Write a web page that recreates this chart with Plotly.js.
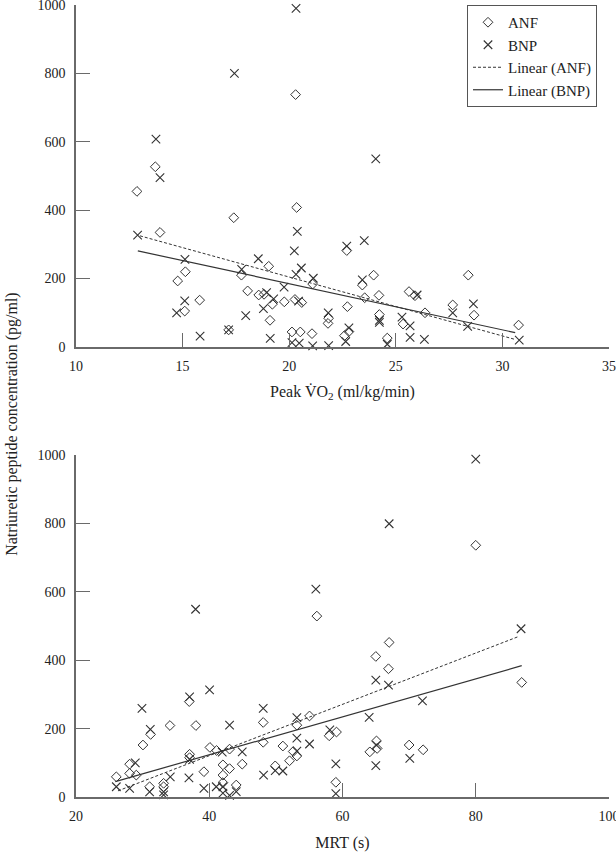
<!DOCTYPE html>
<html>
<head>
<meta charset="utf-8">
<script src="https://cdn.plot.ly/plotly-3.0.1.min.js"></script>
<style>html,body{margin:0;padding:0;background:#fff;}#chart{width:616px;height:852px;}</style>
</head>
<body>
<div id="chart"></div>
<script>
// ---- Top panel: Peak VO2 (ml/kg/min) ----
const vo2AnfX = [12.86,13.72,13.94,14.77,15.13,15.10,15.80,17.16,17.40,17.76,18.05,18.57,18.82,19.04,19.21,19.10,19.77,20.27,20.59,20.35,20.30,20.13,20.52,21.07,21.10,21.85,21.82,22.70,22.73,22.59,22.80,23.43,23.54,23.96,24.21,24.23,24.60,25.34,25.62,25.90,26.37,27.67,28.40,28.67,30.76];
const vo2AnfY = [455,527,335,193,220,105,137,50,378,210,164,152,154,236,125,78,132,139,130,408,738,44,44,39,184,84,69,282,118,33,45,181,144,210,151,95,26,67,162,150,100,123,210,93,64];
const vo2BnpX = [12.89,13.75,13.94,14.72,15.10,15.11,15.82,17.16,17.43,17.77,17.96,18.55,18.79,18.94,19.27,19.11,19.76,20.13,20.24,20.32,20.32,20.38,20.44,20.47,20.57,21.10,21.13,21.83,21.85,22.65,22.70,22.80,23.43,23.52,24.06,24.23,24.23,24.60,25.29,25.67,25.67,26.00,26.34,27.67,28.37,28.64,30.79];
const vo2BnpY = [327,608,495,100,135,256,32,50,800,227,92,258,112,159,141,25,175,13,281,212,990,338,134,11,231,3,201,100,4,16,295,56,196,311,550,78,72,8,87,62,28,152,22,100,60,126,20];
const vo2FitX = [13.0,30.6];
const vo2FitAnfY = [325,22];
const vo2FitBnpX = [12.9,30.6];
const vo2FitBnpY = [281,42];

// ---- Bottom panel: MRT (s) ----
const mrtAnfX = [26.05,28.05,28.05,29.05,30.05,31.2,31.05,33.15,33.15,34.1,37.0,37.05,37.05,38.0,39.2,40.1,41.1,42.05,42.05,42.05,43.05,43.05,44.05,44.95,48.1,48.1,49.9,51.05,52.05,52.6,53.15,53.15,55.05,56.15,58.0,59.1,59.0,64.1,65.1,65.2,65.0,66.9,67.0,70.0,72.1,80.0,86.9];
const mrtAnfY = [59,96,69,64,152,183,30,40,30,209,279,125,115,209,74,145,136,94,64,42,140,83,35,96,218,160,91,149,106,133,210,120,237,529,179,190,43,132,164,142,411,375,452,152,138,736,335];
const mrtBnpX = [26.05,28.05,28.9,29.9,31.15,31.05,33.15,33.15,34.15,36.95,37.05,37.05,37.95,39.2,40.05,41.05,41.95,42.05,42.05,43.05,43.05,44.05,44.95,48.1,48.15,49.9,51.05,53.15,53.15,53.15,55.05,56.0,58.1,59.0,59.0,64.0,65.0,65.1,65.0,66.9,67.0,70.1,72.0,80.0,86.8];
const mrtBnpY = [30,25,100,259,198,15,6,15,59,56,293,110,549,25,313,30,131,30,11,5,210,16,132,259,64,77,76,232,172,134,155,608,196,97,10,233,342,152,92,327,799,113,281,988,492];
const mrtFitAnfX = [26.3,86.4];
const mrtFitAnfY = [18,469];
const mrtFitBnpX = [25.9,86.9];
const mrtFitBnpY = [45,384];

const seriesNames = ['ANF','BNP','Linear (ANF)','Linear (BNP)'];
const xTicksTop = [10,15,20,25,30,35];
const xTicksBottom = [20,40,60,80,100];
const yTicks = [0,200,400,600,800,1000];

const ink = '#333333';
const axisCol = '#6a6a6a';
const serif = '"Liberation Serif", "Times New Roman", Times, serif';

const anfMarker = {symbol:'diamond-open', size:7.5, color:ink, line:{width:1, color:ink}};
const bnpMarker = {symbol:'x-thin-open', size:8.5, color:ink, line:{width:1.1, color:ink}};

const traces = [
  {x:vo2AnfX, y:vo2AnfY, mode:'markers', type:'scatter', name:seriesNames[0], marker:anfMarker, xaxis:'x', yaxis:'y', cliponaxis:false, legendrank:1},
  {x:vo2BnpX, y:vo2BnpY, mode:'markers', type:'scatter', name:seriesNames[1], marker:bnpMarker, xaxis:'x', yaxis:'y', cliponaxis:false, legendrank:2},
  {x:vo2FitX, y:vo2FitAnfY, mode:'lines', type:'scatter', name:seriesNames[2], line:{color:ink, width:1, dash:'3px,2px'}, xaxis:'x', yaxis:'y', legendrank:3},
  {x:vo2FitBnpX, y:vo2FitBnpY, mode:'lines', type:'scatter', name:seriesNames[3], line:{color:ink, width:1.2}, xaxis:'x', yaxis:'y', legendrank:4},
  {x:mrtAnfX, y:mrtAnfY, mode:'markers', type:'scatter', name:seriesNames[0], marker:anfMarker, xaxis:'x2', yaxis:'y2', cliponaxis:false, showlegend:false},
  {x:mrtBnpX, y:mrtBnpY, mode:'markers', type:'scatter', name:seriesNames[1], marker:bnpMarker, xaxis:'x2', yaxis:'y2', cliponaxis:false, showlegend:false},
  {x:mrtFitAnfX, y:mrtFitAnfY, mode:'lines', type:'scatter', name:seriesNames[2], line:{color:ink, width:1, dash:'3px,2px'}, xaxis:'x2', yaxis:'y2', showlegend:false},
  {x:mrtFitBnpX, y:mrtFitBnpY, mode:'lines', type:'scatter', name:seriesNames[3], line:{color:ink, width:1.2}, xaxis:'x2', yaxis:'y2', showlegend:false}
];

function xAxis(range, ticks, title, anchor, standoff){
  return {
    range:range, tickvals:ticks, ticktext:ticks.map(String), anchor:anchor,
    ticks:'inside', ticklen:14, tickwidth:1.2, tickcolor:axisCol,
    showline:true, linecolor:axisCol, linewidth:1.6,
    showgrid:false, zeroline:false, fixedrange:true, ticklabeloverflow:'allow',
    tickfont:{family:serif, size:14, color:'#222'}, ticklabelstandoff:6,
    title:{text:title, font:{family:serif, size:16, color:'#222'}, standoff:standoff}
  };
}
function yAxis(domain, anchor){
  return {
    range:[0,1000], tickvals:yTicks, ticktext:yTicks.map(String), domain:domain, anchor:anchor,
    ticks:'inside', ticklen:14, tickwidth:1.2, tickcolor:axisCol,
    showline:true, linecolor:axisCol, linewidth:1.6,
    showgrid:false, zeroline:false, fixedrange:true, ticklabeloverflow:'allow',
    tickfont:{family:serif, size:14, color:'#222'}, ticklabelstandoff:6
  };
}

const layout = {
  width:616, height:852,
  margin:{l:76, r:7, t:5, b:55},
  paper_bgcolor:'#fff', plot_bgcolor:'#fff',
  font:{family:serif, size:14, color:'#222'},
  showlegend:true,
  legend:{x:0.7336, y:1, xanchor:'left', yanchor:'top', bgcolor:'#fff', bordercolor:'#555', borderwidth:1,
          font:{family:serif, size:15, color:'#222'}, itemwidth:30, tracegroupgap:0},
  xaxis:xAxis([10,35], xTicksTop, 'Peak V\u0307O<sub>2</sub> (ml/kg/min)', 'y', 12),
  yaxis:yAxis([0.5682,1], 'x'),
  xaxis2:xAxis([20,100], xTicksBottom, 'MRT (s)', 'y2', 15),
  yaxis2:yAxis([0,0.4318], 'x2'),
  annotations:[{
    text:'Natriuretic peptide concentration (pg/ml)', textangle:-90,
    xref:'paper', yref:'paper', x:-0.12, y:0.47, xanchor:'center', yanchor:'middle',
    showarrow:false, font:{family:serif, size:16, color:'#222'}
  }]
};

Plotly.newPlot('chart', traces, layout, {staticPlot:true, displayModeBar:false});
</script>
</body>
</html>
